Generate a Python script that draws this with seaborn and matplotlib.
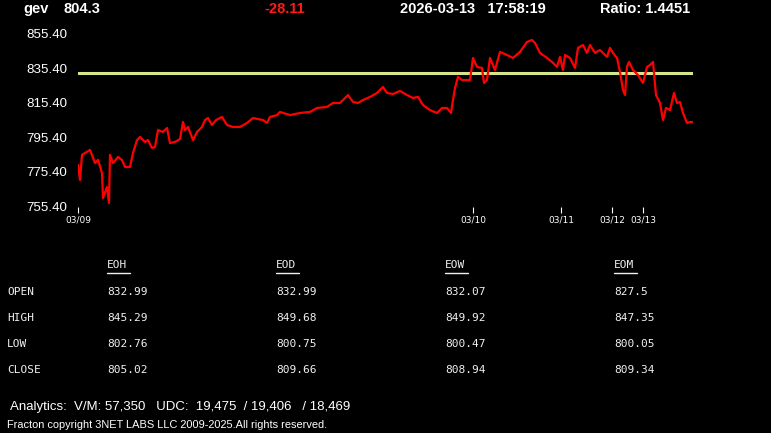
import matplotlib
matplotlib.use("Agg")
import matplotlib.pyplot as plt
import seaborn as sns
import pandas as pd
from matplotlib.lines import Line2D

# ---------------- data ----------------
symbol = "gev"
last_price = "804.3"
change = "-28.11"
timestamp = "2026-03-13   17:58:19"
ratio_text = "Ratio: 1.4451"

# bar index (session time) and price
bar_index = [0, 2, 4, 12, 17, 20, 24, 25, 29, 31,
             32, 35, 40, 44, 47, 52, 55, 59, 62, 67,
             70, 74, 77, 80, 85, 89, 92, 97, 102, 105,
             107, 110, 115, 119, 124, 127, 130, 134, 138, 144,
             149, 155, 162, 169, 175, 185, 189, 192, 199, 202,
             212, 222, 232, 239, 249, 255, 262, 270, 275, 280,
             285, 292, 299, 305, 309, 315, 322, 329, 335, 340,
             345, 352, 359, 364, 369, 373, 375, 377, 380, 384,
             392, 395, 399, 404, 406, 409, 412, 417, 422, 429,
             435, 442, 449, 454, 457, 462, 469, 474, 479, 482,
             485, 487, 492, 497, 500, 505, 509, 512, 517, 522,
             529, 532, 535, 539, 542, 545, 547, 549, 551, 555,
             560, 565, 569, 572, 575, 578, 582, 585, 588, 592,
             596, 599, 602, 605, 609, 612, 615]
price = [779.5, 770.8, 785.3, 788.2, 780.6, 782.4, 774.8, 760.3, 766.7, 757.4,
         785.3, 780.6, 784.1, 782.4, 778.3, 778.3, 786.4, 793.9, 795.7, 792.8,
         793.9, 789.3, 789.9, 799.7, 798.6, 800.9, 792.2, 792.8, 794.5, 804.4,
         799.7, 801.5, 793.9, 798.6, 801.5, 805.5, 806.7, 802.6, 805.5, 807.3,
         802.6, 801.5, 801.5, 803.8, 806.7, 805.5, 803.8, 807.3, 808.4, 810.2,
         808.4, 809.6, 810.2, 812.5, 813.1, 815.4, 815.4, 820.0, 816.0, 815.4,
         817.1, 818.9, 821.2, 824.7, 821.2, 820.6, 822.4, 820.0, 818.3, 818.9,
         814.2, 811.3, 809.6, 812.5, 812.5, 809.6, 817.1, 824.1, 830.5, 828.7,
         828.7, 841.5, 836.3, 835.7, 827.0, 828.7, 841.5, 834.5, 845.0, 843.2,
         841.5, 845.0, 850.8, 851.9, 850.2, 844.4, 841.5, 839.2, 836.3, 842.1,
         834.5, 843.2, 841.5, 835.7, 847.3, 849.0, 844.4, 849.0, 844.4, 846.1,
         842.1, 847.3, 844.4, 841.5, 833.4, 822.9, 820.0, 836.3, 839.2, 834.5,
         831.6, 827.0, 836.3, 837.4, 839.2, 820.0, 815.4, 805.5, 812.5, 811.3,
         821.2, 815.4, 816.0, 809.6, 803.8, 804.4, 804.3]
open_level = 832.99

date_tick_pos = [0, 395, 483, 534, 565]
date_tick_labels = ["03/09", "03/10", "03/11", "03/12", "03/13"]
y_ticks = [755.40, 775.40, 795.40, 815.40, 835.40, 855.40]

col_headers = ["EOH", "EOD", "EOW", "EOM"]
row_labels = ["OPEN", "HIGH", "LOW", "CLOSE"]
eoh_vals = ["832.99", "845.29", "802.76", "805.02"]
eod_vals = ["832.99", "849.68", "800.75", "809.66"]
eow_vals = ["832.07", "849.92", "800.47", "808.94"]
eom_vals = ["827.5", "847.35", "800.05", "809.34"]

analytics = "Analytics:  V/M: 57,350   UDC:  19,475  / 19,406   / 18,469"
copyright_text = "Fracton copyright 3NET LABS LLC 2009-2025.All rights reserved."

# ---------------- figure ----------------
W, H = 771, 433
sns.set_theme(style="dark")
plt.rcParams["font.family"] = ["Liberation Sans", "DejaVu Sans"]

fig = plt.figure(figsize=(W / 100, H / 100), dpi=100, facecolor="black")


def P(x, y):
    return x / W, 1 - y / H


ax = fig.add_axes([78 / W, 1 - 207 / H, (693 - 78) / W, (207 - 30) / H])
ax.set_facecolor("black")

df = pd.DataFrame({"bar": bar_index, "price": price})
sns.lineplot(data=df, x="bar", y="price", ax=ax, color="#ff0000",
             linewidth=1.6, estimator=None)
ax.axhline(open_level, color="#d6e48c", linewidth=2.2, zorder=1)

ax.set_xlim(0, 615)
ax.set_ylim(755.1, 857.7)
ax.set_yticks(y_ticks)
ax.set_yticklabels([f"{v:.2f}" for v in y_ticks], color="white", fontsize=9.6)
ax.tick_params(axis="y", length=0, pad=8)
ax.set_xticks(date_tick_pos)
ax.set_xticklabels(date_tick_labels, color="white", fontsize=6.5,
                   fontfamily="DejaVu Sans")
ax.tick_params(axis="x", length=4, width=0.8, color="white", direction="out",
               pad=2, bottom=True)
ax.set_xlabel("")
ax.set_ylabel("")
ax.grid(False)
for s in ax.spines.values():
    s.set_visible(False)

# ---------------- header ----------------
hdr = dict(color="white", fontsize=10.5, fontweight="bold", va="center")
fig.text(*P(23, 9), symbol, ha="left", **hdr)
fig.text(*P(64, 9), last_price, ha="left", **hdr)
fig.text(*P(285, 9), change, ha="center", **{**hdr, "color": "#ff1a1a"})
fig.text(*P(400, 9), timestamp, ha="left", **hdr)
fig.text(*P(600, 9), ratio_text, ha="left", **hdr)

# ---------------- table ----------------
mono = dict(color="#f0f0f0", fontsize=8, fontfamily="DejaVu Sans Mono", va="center")
col_x = [107, 276, 445, 614]
row_y = [292, 318, 344, 370]
cols = [eoh_vals, eod_vals, eow_vals, eom_vals]
for cx, head in zip(col_x, col_headers):
    fig.text(*P(cx, 265), head, ha="left", **mono)
    fig.add_artist(Line2D([cx / W, (cx + 23) / W], [1 - 273 / H, 1 - 273 / H],
                          color="#f0f0f0", linewidth=1, transform=fig.transFigure))
for ry, lab in zip(row_y, row_labels):
    fig.text(*P(7, ry), lab, ha="left", **mono)
for cx, vals in zip(col_x, cols):
    for ry, v in zip(row_y, vals):
        fig.text(*P(cx, ry), v, ha="left", **mono)

# ---------------- footer ----------------
fig.text(*P(10, 407), analytics, ha="left", va="center", color="white", fontsize=9.5)
fig.text(*P(7, 425), copyright_text, ha="left", va="center", color="white", fontsize=7.9)

fig.savefig("out.png", dpi=100, facecolor="black")
